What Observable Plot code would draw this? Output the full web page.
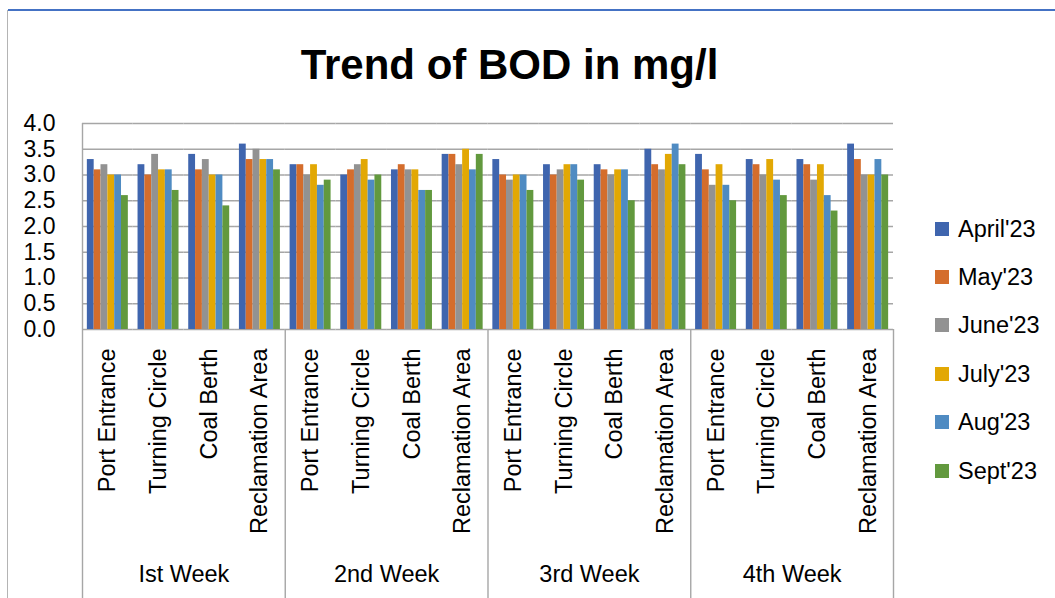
<!DOCTYPE html>
<html>
<head>
<meta charset="utf-8">
<script src="https://cdn.jsdelivr.net/npm/d3@7"></script>
<script src="https://cdn.jsdelivr.net/npm/@observablehq/plot@0.6"></script>
<style>
  html, body { margin: 0; padding: 0; background: #fff; }
  #wrap { position: relative; width: 1055px; height: 598px; overflow: hidden; font-family: "Liberation Sans", Arial, sans-serif; }
  #topline { position: absolute; left: 8px; top: 9px; width: 1047px; height: 2px; background: #4472c4; }
  #leftline { position: absolute; left: 7px; top: 10px; width: 1px; height: 588px; background: #b4b4b4; }
  #title { position: absolute; left: 0; top: 44px; width: 1019px; text-align: center; font-size: 42px; line-height: 42px; font-weight: bold; color: #000; white-space: nowrap; }
  #chart { position: absolute; left: 0; top: 0; }
  #legend { position: absolute; left: 935px; top: 0; }
  .item { position: absolute; left: 0; height: 24px; white-space: nowrap; font-size: 23.5px; line-height: 24px; color: #000; }
  .sw { position: absolute; left: 0; top: 5px; width: 14px; height: 14px; }
  .lab { position: absolute; left: 23px; top: 0; }
</style>
</head>
<body>
<div id="wrap">
  <div id="topline"></div>
  <div id="leftline"></div>
  <div id="chart"></div>
  <div id="title">Trend of BOD in mg/l</div>
  <div id="legend"></div>
</div>
<script>
// ---- data ----
const weeks = ["Ist Week", "2nd Week", "3rd Week", "4th Week"];
const locations = ["Port Entrance", "Turning Circle", "Coal Berth", "Reclamation Area"];
const seriesNames = ["April'23", "May'23", "June'23", "July'23", "Aug'23", "Sept'23"];
const seriesColors = ["#3f65ae", "#d46d2c", "#929292", "#e2a804", "#4f8bc2", "#62993e"];
const yTicks = [0, 0.5, 1, 1.5, 2, 2.5, 3, 3.5, 4];
// values ordered week by week, location by location
const april = [3.3, 3.2, 3.4, 3.6,  3.2, 3.0, 3.1, 3.4,  3.3, 3.2, 3.2, 3.5,  3.4, 3.3, 3.3, 3.6];
const may   = [3.1, 3.0, 3.1, 3.3,  3.2, 3.1, 3.2, 3.4,  3.0, 3.0, 3.1, 3.2,  3.1, 3.2, 3.2, 3.3];
const june  = [3.2, 3.4, 3.3, 3.5,  3.0, 3.2, 3.1, 3.2,  2.9, 3.1, 3.0, 3.1,  2.8, 3.0, 2.9, 3.0];
const july  = [3.0, 3.1, 3.0, 3.3,  3.2, 3.3, 3.1, 3.5,  3.0, 3.2, 3.1, 3.4,  3.2, 3.3, 3.2, 3.0];
const aug   = [3.0, 3.1, 3.0, 3.3,  2.8, 2.9, 2.7, 3.1,  3.0, 3.2, 3.1, 3.6,  2.8, 2.9, 2.6, 3.3];
const sept  = [2.6, 2.7, 2.4, 3.1,  2.9, 3.0, 2.7, 3.4,  2.7, 2.9, 2.5, 3.2,  2.5, 2.6, 2.3, 3.0];

// ---- table ----
const seriesValues = [april, may, june, july, aug, sept];
const keys = [];
weeks.forEach(w => locations.forEach(l => keys.push(w + "|" + l)));
const rows = [];
keys.forEach((k, i) => {
  const [week, location] = k.split("|");
  seriesNames.forEach((s, j) => rows.push({key: k, week, location, series: s, value: seriesValues[j][i]}));
});

// ---- layout ----
const W = 1055, H = 598, ML = 82, MR = 162, MT = 123, MB = 269;
const fw = (W - ML - MR) / keys.length;
const plotH = H - MT - MB;
const gridColor = "#a6a6a6";
const first = seriesNames[0];

const chart = Plot.plot({
  width: W, height: H,
  marginTop: MT, marginBottom: MB, marginLeft: ML, marginRight: MR,
  style: {fontFamily: "Liberation Sans, Arial, sans-serif", fontSize: "23px", color: "#000", background: "transparent"},
  facet: {data: rows, x: "key"},
  fx: {domain: keys, padding: 0, round: false, axis: null, label: null},
  x: {domain: seriesNames, paddingInner: 0, paddingOuter: 0.71, round: false, axis: null, label: null},
  y: {domain: [0, 4], ticks: yTicks, tickFormat: d => d.toFixed(1), tickSize: 0, tickPadding: 27, label: null},
  color: {domain: seriesNames, range: seriesColors},
  marks: [
    Plot.ruleY(yTicks, {stroke: gridColor, strokeWidth: 1.4}),
    Plot.barY(rows, {x: "series", y: "value", fill: "series"}),
    // location labels
    Plot.text(rows, {filter: d => d.series === first, text: "location", frameAnchor: "bottom",
      rotate: -90, textAnchor: "end", lineAnchor: "middle", dy: 19, fontSize: 23.5, fill: "#000"}),
    // week labels
    Plot.text(rows, {filter: d => d.series === first && d.location === locations[1], text: "week",
      frameAnchor: "bottom-right", textAnchor: "middle", lineAnchor: "middle", dy: 245, fontSize: 23.5, fill: "#000"}),
    // week separators (below the axis)
    Plot.ruleX(rows, {filter: d => d.series === first && d.location === locations[0] && d.week !== weeks[0],
      x: null, dx: -fw / 2, insetTop: plotH, insetBottom: -MB, stroke: gridColor, strokeWidth: 1.4}),
    // left axis line
    Plot.ruleX(rows, {filter: d => d.series === first && d.location === locations[0] && d.week === weeks[0],
      x: null, dx: -fw / 2, insetTop: 0, insetBottom: -MB, stroke: gridColor, strokeWidth: 1.4}),
    // right end separator
    Plot.ruleX(rows, {filter: d => d.series === first && d.location === locations[3] && d.week === weeks[3],
      x: null, dx: fw / 2, insetTop: plotH, insetBottom: -MB, stroke: gridColor, strokeWidth: 1.4})
  ]
});
document.getElementById("chart").appendChild(chart);

// ---- legend ----
const legend = document.getElementById("legend");
seriesNames.forEach((s, i) => {
  const item = document.createElement("div");
  item.className = "item";
  item.style.top = (228.5 + 48.4 * i - 12) + "px";
  const sw = document.createElement("div");
  sw.className = "sw";
  sw.style.background = seriesColors[i];
  const lab = document.createElement("div");
  lab.className = "lab";
  lab.textContent = s;
  item.appendChild(sw);
  item.appendChild(lab);
  legend.appendChild(item);
});
</script>
</body>
</html>
